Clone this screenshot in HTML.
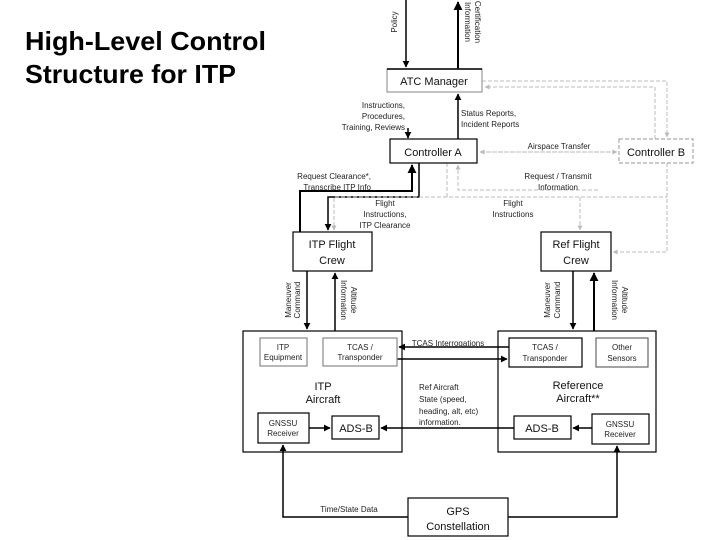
<!DOCTYPE html>
<html><head><meta charset="utf-8"><style>
html,body{margin:0;padding:0;background:#fff;}
svg{display:block;}
text{font-family:"Liberation Sans",sans-serif;}
.s{font-size:8px;fill:#222;}
.b{font-size:11px;fill:#111;}
</style></head><body>
<svg width="720" height="540" viewBox="0 0 720 540" xmlns="http://www.w3.org/2000/svg">
<defs>
<marker id="a" viewBox="0 0 10 10" refX="9" refY="5" markerWidth="4.5" markerHeight="4.5" orient="auto"><path d="M0,0L10,5L0,10z" fill="#000"/></marker>
<marker id="g" viewBox="0 0 10 10" refX="9" refY="5" markerWidth="5" markerHeight="5" orient="auto"><path d="M0,0L10,5L0,10z" fill="#bbb"/></marker>
</defs>
<text x="25" y="50" font-size="26" font-weight="bold" fill="#000" textLength="241" lengthAdjust="spacingAndGlyphs">High-Level Control</text>
<text x="25" y="83" font-size="26" font-weight="bold" fill="#000" textLength="211" lengthAdjust="spacingAndGlyphs">Structure for ITP</text>

<g fill="none" stroke="#000" stroke-width="1.5">
<path d="M406,0V67" marker-end="url(#a)"/>
<path d="M458,69V2" stroke-width="2" marker-end="url(#a)"/>
<path d="M408,128V138" marker-end="url(#a)"/>
<path d="M458,139V94" marker-end="url(#a)"/>
<path d="M300,232V191H412V165" stroke-width="2" marker-end="url(#a)"/>
<path d="M419,163V197H328V230" marker-end="url(#a)"/>
<path d="M307,271V329" marker-end="url(#a)"/>
<path d="M335,331V273" marker-end="url(#a)"/>
<path d="M573,271V329" marker-end="url(#a)"/>
<path d="M594,331V273" stroke-width="2" marker-end="url(#a)"/>
<path d="M509,347H399" marker-end="url(#a)"/>
<path d="M397,359H507" marker-end="url(#a)"/>
<path d="M514,428H381" marker-end="url(#a)"/>
<path d="M309,428H330" marker-end="url(#a)"/>
<path d="M592,428H573" marker-end="url(#a)"/>
<path d="M408,517H283V445" marker-end="url(#a)"/>
<path d="M508,517H617V446" marker-end="url(#a)"/>
</g>

<g fill="none" stroke="#bbb" stroke-width="1" stroke-dasharray="4,2">
<path d="M482,81H667V137" marker-end="url(#g)"/>
<path d="M655,139V87H485" marker-end="url(#g)"/>
<path d="M480,152H617" marker-end="url(#g)"/>
<path d="M617,152H480" marker-end="url(#g)"/>
<path d="M667,163V252H613" marker-end="url(#g)"/>
<path d="M447,163V197H667"/>
<path d="M447,197H334V230" marker-end="url(#g)"/>
<path d="M580,197V230" marker-end="url(#g)"/>
<path d="M598,190H458V165" marker-end="url(#g)"/>
</g>

<g fill="#fff" stroke="#000" stroke-width="1.2">
<rect x="387" y="69" width="95" height="23" stroke="#999"/>
<path d="M387,69H482" stroke="#000" stroke-width="1.5"/>
<rect x="390" y="139" width="87" height="24"/>
<rect x="619" y="139" width="74" height="24" stroke="#aaa" stroke-dasharray="4,2"/>
<rect x="293" y="232" width="79" height="39"/>
<rect x="541" y="232" width="70" height="39"/>
<rect x="243" y="331" width="159" height="121" fill="none"/>
<rect x="498" y="331" width="158" height="121" fill="none"/>
<rect x="260" y="338" width="47" height="28" stroke="#888"/>
<rect x="323" y="338" width="74" height="28" stroke="#888"/>
<rect x="509" y="338" width="73" height="29"/>
<rect x="596" y="338" width="52" height="29" stroke="#666"/>
<rect x="258" y="413" width="51" height="30"/>
<rect x="332" y="416" width="47" height="23"/>
<rect x="514" y="416" width="57" height="23"/>
<rect x="592" y="414" width="57" height="30"/>
<rect x="408" y="498" width="100" height="38"/>
</g>

<g class="b" text-anchor="middle">
<text x="434" y="85">ATC Manager</text>
<text x="433" y="156">Controller A</text>
<text x="656" y="156">Controller B</text>
<text x="332" y="248">ITP Flight</text><text x="332" y="264">Crew</text>
<text x="576" y="248">Ref Flight</text><text x="576" y="264">Crew</text>
<text x="323" y="390">ITP</text><text x="323" y="403">Aircraft</text>
<text x="578" y="389">Reference</text><text x="578" y="402">Aircraft**</text>
<text x="356" y="432">ADS-B</text>
<text x="542" y="432">ADS-B</text>
<text x="458" y="515">GPS</text><text x="458" y="530">Constellation</text>
</g>
<g class="s" text-anchor="middle">
<text x="283" y="350">ITP</text><text x="283" y="360">Equipment</text>
<text x="360" y="350">TCAS /</text><text x="360" y="360">Transponder</text>
<text x="545" y="350">TCAS /</text><text x="545" y="361">Transponder</text>
<text x="622" y="350">Other</text><text x="622" y="361">Sensors</text>
<text x="283" y="426">GNSSU</text><text x="283" y="436">Receiver</text>
<text x="620" y="427">GNSSU</text><text x="620" y="437">Receiver</text>
<text x="559" y="149">Airspace Transfer</text>
<text x="558" y="179">Request / Transmit</text><text x="558" y="190">Information</text>
<text x="385" y="206">Flight</text><text x="385" y="217">Instructions,</text><text x="385" y="228">ITP Clearance</text>
<text x="513" y="206">Flight</text><text x="513" y="217">Instructions</text>
<text x="448" y="346">TCAS Interrogations</text>
<text x="349" y="512">Time/State Data</text>
</g>
<g class="s" text-anchor="end">
<text x="405" y="108">Instructions,</text><text x="405" y="119">Procedures,</text><text x="405" y="130">Training, Reviews</text>
<text x="371" y="179">Request Clearance*,</text><text x="371" y="190">Transcribe ITP Info</text>
</g>
<g class="s">
<text x="461" y="116">Status Reports,</text><text x="461" y="127">Incident Reports</text>
<text x="419" y="390">Ref Aircraft</text><text x="419" y="402">State (speed,</text><text x="419" y="414">heading, alt, etc)</text><text x="419" y="425">information.</text>
</g>
<g class="s" text-anchor="middle">
<text transform="translate(397,22) rotate(-90)">Policy</text>
<text transform="translate(475,22) rotate(90)">Certification</text>
<text transform="translate(465,22) rotate(90)">Information</text>
<text transform="translate(291,300) rotate(-90)">Maneuver</text>
<text transform="translate(300,300) rotate(-90)">Command</text>
<text transform="translate(351,300) rotate(90)">Altitude</text>
<text transform="translate(341,300) rotate(90)">Information</text>
<text transform="translate(550,300) rotate(-90)">Maneuver</text>
<text transform="translate(560,300) rotate(-90)">Command</text>
<text transform="translate(622,300) rotate(90)">Altitude</text>
<text transform="translate(612,300) rotate(90)">Information</text>
</g>
</svg>
</body></html>
